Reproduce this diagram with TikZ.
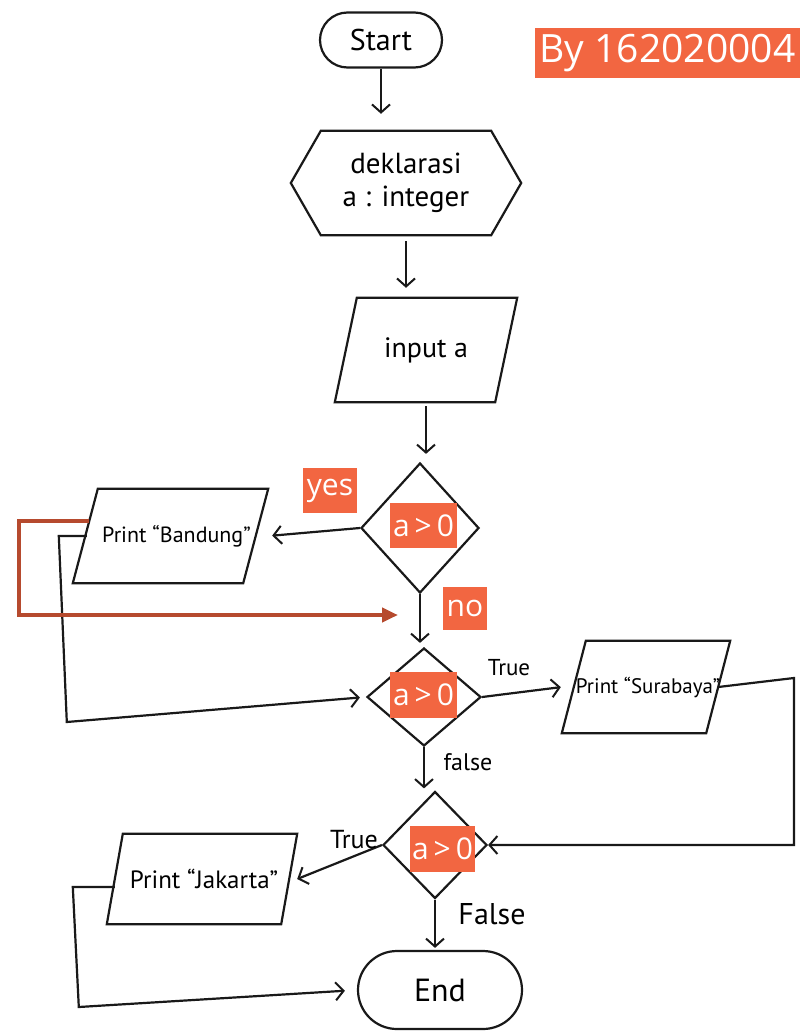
\documentclass[tikz,border=0pt]{standalone}
\usepackage{fontspec}
\setmainfont{PT Sans}
\newfontfamily\tagfont{Open Sans}
\usetikzlibrary{shapes.geometric,shapes.misc,arrows.meta,calc}
\definecolor{tagorange}{HTML}{F26641}
\definecolor{markred}{HTML}{B64A2E}

\tikzset{
  ink/.style={draw=black!90, line width=2.2pt},
  flow/.style={ink, -{Straight Barb[length=8pt,width=18pt,line width=2pt]}},
  terminal/.style={ink, rounded rectangle, inner sep=0pt},
  iobox/.style={inner sep=0pt},
  decision/.style={ink, diamond, inner sep=0pt},
  hand/.style={font=\fontsize{#1}{#1}\selectfont},
  hand/.default=24,
  tag/.style={fill=tagorange, text=white, inner sep=0pt,
    font=\tagfont\fontsize{30}{30}\selectfont},
  markline/.style={draw=markred, line width=4.5pt,
    -{Triangle[length=16pt,width=14pt]}},
}
% outline of an input/output node: a parallelogram leaning right by #2
\newcommand\slantbox[2]{%
  \draw[ink] (#1.south west) -- ([xshift=#2]#1.north west) -- (#1.north east)
    -- ([xshift=-#2]#1.south east) -- cycle;}

\begin{document}
\begin{tikzpicture}[x=1pt,y=-1pt]
\useasboundingbox[fill=white] (0,0) rectangle (802,1033);

% shapes
\node[terminal, minimum width=122pt, minimum height=55pt, hand=30] (start) at (381,40) {Start};

\node[minimum width=230pt, minimum height=104pt, inner sep=0pt, align=center, hand=29]
  (decl) at (406,183) {deklarasi\\[4pt]a : integer};
\draw[ink] (decl.west) -- ($(decl.north west)+(30,0)$) -- ($(decl.north east)+(-30,0)$)
  -- (decl.east) -- ($(decl.south east)+(-30,0)$) -- ($(decl.south west)+(30,0)$) -- cycle;

\node[iobox, minimum width=182pt, minimum height=104pt, hand=28] (input) at (426,350) {input a};
\slantbox{input}{22pt}
\node[decision, minimum width=118pt, minimum height=130pt] (d1) at (420,528) {};
\node[iobox, minimum width=195pt, minimum height=94pt, hand=22] (bandung) at (170.5,536)
  {\hspace*{12pt}Print “Bandung”};
\slantbox{bandung}{25pt}
\node[decision, minimum width=114pt, minimum height=98pt] (d2) at (424,697) {};
\node[iobox, minimum width=168pt, minimum height=92pt, hand=21] (surabaya) at (646,687)
  {\hspace*{4pt}Print “Surabaya”};
\slantbox{surabaya}{24pt}
\node[decision, minimum width=104pt, minimum height=107pt] (d3) at (435,845) {};
\node[iobox, minimum width=190pt, minimum height=90pt, hand=25] (jakarta) at (202,879)
  {\hspace*{4pt}Print “Jakarta”};
\slantbox{jakarta}{16pt}
\node[terminal, minimum width=164pt, minimum height=78pt, hand=32] (end) at (440,990) {End};

% helper points
\coordinate (sbcorner) at (794,678);
\coordinate (noend) at (398,615);

% connectors
\draw[flow, shorten >=17pt] (start.south) -- (start.south |- decl.north);
\draw[flow, shorten <=6pt, shorten >=10pt] (decl.south) -- (decl.south |- input.north);
\draw[flow, shorten <=4pt, shorten >=8pt] (input.south) -- (input.south |- d1.north);
\draw[flow, shorten >=4pt] (d1.west) -- (bandung.east);
\draw[flow, shorten >=6pt] ([xshift=14pt]bandung.west) -- ++(-28,0) -- ++(8,186) -- (d2.west);
\draw[flow, shorten >=4pt] (d1.south) -- (d1.south |- d2.north);
\draw[flow, shorten >=1pt] (d2.east) -- (surabaya.west);
\draw[flow] ([xshift=-12pt]surabaya.east) -- (sbcorner) |- (d3.east);
\draw[flow, shorten >=2pt] (d2.south) -- (d2.south |- d3.north);
\draw[flow] (d3.west) -- (jakarta.east);
\draw[flow, shorten >=12pt] ([xshift=8pt,yshift=-8pt]jakarta.west) -- ++(-42,0) -- ++(6,120) -- (end.west);
\draw[flow, shorten >=2pt] (d3.south) -- (d3.south |- end.north);

% branch labels
\node[hand=23] (t1) at (509,668) {True};
\node[hand=24] (f1) at (468,762) {false};
\node[hand=26] (t2) at (354,840) {True};
\node[hand=30] (f2) at (492,914) {False};

% highlighted path
\draw[markline] ([xshift=16pt,yshift=15pt]bandung.west) -- ++(-70,0) |- (noend);

% tags
\node[tag, minimum width=265pt, minimum height=50pt,
  font=\tagfont\fontsize{39}{39}\selectfont] (by) at (667.5,53) {By 162020004};
\node[tag, minimum width=67pt, minimum height=45pt] (c1) at (423.5,525.5) {a\,>\,0};
\node[tag, minimum width=67pt, minimum height=46pt] (c2) at (423.5,695) {a\,>\,0};
\node[tag, minimum width=65pt, minimum height=46pt] (c3) at (442.5,849) {a\,>\,0};
\node[tag, minimum width=54pt, minimum height=45pt] (yes) at (330,490.5) {yes};
\node[tag, minimum width=44pt, minimum height=43pt] (no) at (465,608.5) {no};
\end{tikzpicture}
\end{document}
